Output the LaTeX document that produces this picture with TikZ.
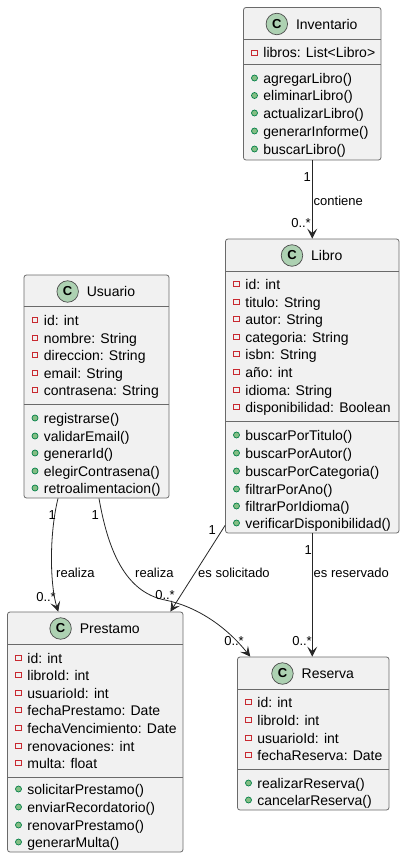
\documentclass[tikz,border=0pt]{standalone}
\usepackage{fontspec}
\setmainfont{Liberation Sans}
\usetikzlibrary{arrows.meta}
\definecolor{boxfill}{HTML}{F1F1F1}
\definecolor{boxline}{HTML}{6A6A6A}
\definecolor{spot}{HTML}{ADD1B2}
\definecolor{attrred}{HTML}{C82930}
\definecolor{methfill}{HTML}{84BE84}
\definecolor{methline}{HTML}{038048}
\tikzset{
  umlbox/.style={draw=boxline,fill=boxfill,line width=.8pt,rounded corners=2.5pt,inner sep=0pt},
  sepline/.style={draw=boxline,line width=.8pt},
  spotc/.style={circle,draw=black!70,fill=spot,line width=.7pt,minimum size=21.5pt,inner sep=0pt,font=\fontsize{13}{13}\selectfont\bfseries},
  titletext/.style={inner sep=0pt,font=\fontsize{14}{16}\selectfont},
  rowtext/.style={anchor=base west,inner sep=0pt,font=\fontsize{14}{16}\selectfont},
  marker-a/.style={rectangle,draw=attrred,fill=boxfill,line width=.8pt,minimum size=5.4pt,inner sep=0pt},
  marker-m/.style={circle,draw=methline,fill=methfill,line width=.7pt,minimum size=6pt,inner sep=0pt},
  edgetext/.style={anchor=base west,inner sep=0pt,font=\fontsize{13}{15}\selectfont},
  multi/.style={anchor=base east,inner sep=0pt,font=\fontsize{13}{15}\selectfont},
  assoc/.style={draw=black!85,line width=.8pt,-{Stealth[length=10pt,width=10pt,inset=4.5pt]}},
}
% id, name, left, top, right, bottom, sep1, sep2, rows (centre y / kind / text)
\newcommand{\umlclass}[9]{
  \node[umlbox,minimum width={(#5-#3)*1pt},minimum height={(#6-#4)*1pt}] (#1) at ({(#3+#5)/2},{(#4+#6)/2}) {};
  \draw[sepline] (#1.west |- 0,#7) -- (#1.east |- 0,#7);
  \draw[sepline] (#1.west |- 0,#8) -- (#1.east |- 0,#8);
  \node[titletext] (#1-title) at ({(#3+#5)/2+14.5},{#4+16.5}) {#2};
  \node[spotc] (#1-spot) at ([xshift=-19pt]#1-title.west) {C};
  \foreach \ry/\rk/\rt [count=\ri] in {#9}{
    \node[marker-\rk] (#1-mark\ri) at ({#3+11},\ry) {};
    \node[rowtext] (#1-row\ri) at ({#3+19.7},{\ry+5}) {\rt};
  }
}
\begin{document}
\begin{tikzpicture}[x=1pt,y=-1pt]
\useasboundingbox[fill=white] (0,0) rectangle (405,859);

\umlclass{inv}{Inventario}{243.5}{7.5}{381}{160}{39.5}{64.5}{
  53/a/{libros: List<Libro>},
  78/m/{agregarLibro()},95.5/m/{eliminarLibro()},113/m/{actualizarLibro()},131/m/{generarInforme()},149/m/{buscarLibro()}}

\umlclass{libro}{Libro}{225.5}{239}{399}{533}{271}{421}{
  284/a/{id: int},302/a/{titulo: String},319/a/{autor: String},337/a/{categoria: String},354/a/{isbn: String},372/a/{año: int},390/a/{idioma: String},407/a/{disponibilidad: Boolean},
  435/m/{buscarPorTitulo()},453/m/{buscarPorAutor()},471/m/{buscarPorCategoria()},489/m/{filtrarPorAno()},506/m/{filtrarPorIdioma()},523/m/{verificarDisponibilidad()}}

\umlclass{usu}{Usuario}{24}{275}{169}{498}{306}{404}{
  320/a/{id: int},338/a/{nombre: String},355/a/{direccion: String},373/a/{email: String},390/a/{contrasena: String},
  418/m/{registrarse()},436/m/{validarEmail()},453/m/{generarId()},471/m/{elegirContrasena()},488/m/{retroalimentacion()}}

\umlclass{pre}{Prestamo}{7.5}{612}{183}{852}{644}{777}{
  658/a/{id: int},675/a/{libroId: int},693/a/{usuarioId: int},710/a/{fechaPrestamo: Date},728/a/{fechaVencimiento: Date},746/a/{renovaciones: int},763/a/{multa: float},
  789/m/{solicitarPrestamo()},807/m/{enviarRecordatorio()},825/m/{renovarPrestamo()},842/m/{generarMulta()}}

\umlclass{res}{Reserva}{237.5}{657}{389}{810}{689}{769}{
  702/a/{id: int},720/a/{libroId: int},738/a/{usuarioId: int},755/a/{fechaReserva: Date},
  783/m/{realizarReserva()},800/m/{cancelarReserva()}}

\draw[assoc] (inv.south) -- (inv.south |- libro.north);
\draw[assoc] ([xshift=0pt]libro.south) -- (libro.south |- res.north);
\draw[assoc] ([yshift=8pt]libro.south west) -- ([xshift=-13pt]pre.north east);
\draw[assoc] ([xshift=-38.5pt]usu.south) .. controls (49,535) and (50,585) .. ([xshift=-37pt]pre.north);
\draw[assoc] ([xshift=2.5pt]usu.south) .. controls (108,550) and (125,592) .. (165,600) .. controls (195,606) and (225,625) .. ([xshift=-63pt]res.north);

\node[multi] (l1) at (311,181) {1};
\node[edgetext] (l2) at (313.5,205.5) {contiene};
\node[multi] (l3) at (311,227.5) {0..*};
\node[multi] (l4) at (312,554.5) {1};
\node[edgetext] (l5) at (313.5,577.5) {es reservado};
\node[multi] (l6) at (312,645.5) {0..*};
\node[multi] (l7) at (216,534.5) {1};
\node[edgetext] (l8) at (198,577.5) {es solicitado};
\node[multi] (l9) at (175,599.5) {0..*};
\node[multi] (l10) at (56,519.5) {1};
\node[edgetext] (l11) at (56,577.5) {realiza};
\node[multi] (l12) at (56,601.5) {0..*};
\node[multi] (l13) at (99,519.5) {1};
\node[edgetext] (l14) at (135,577.5) {realiza};
\node[multi] (l15) at (244,645.5) {0..*};
\end{tikzpicture}
\end{document}
